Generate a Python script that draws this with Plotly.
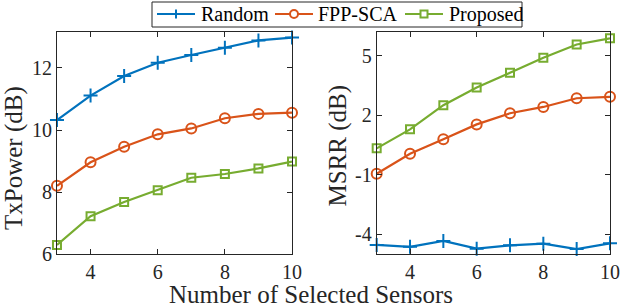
import plotly.graph_objects as go

x_sensors = [3, 4, 5, 6, 7, 8, 9, 10]

# Left: TxPower (dB)
tx_random = [10.32, 11.11, 11.74, 12.17, 12.42, 12.65, 12.89, 12.98]
tx_fpp = [8.20, 8.96, 9.46, 9.86, 10.05, 10.38, 10.52, 10.56]
tx_proposed = [6.29, 7.22, 7.68, 8.06, 8.46, 8.58, 8.76, 8.98]

# Right: MSRR (dB)
ms_random = [-4.54, -4.64, -4.34, -4.73, -4.56, -4.48, -4.75, -4.46]
ms_fpp = [-0.95, 0.06, 0.79, 1.54, 2.10, 2.42, 2.86, 2.93]
ms_proposed = [0.33, 1.29, 2.51, 3.40, 4.14, 4.90, 5.57, 5.88]

names = ["Random", "FPP-SCA", "Proposed"]
colors = ["#0072BD", "#D95319", "#77AC30"]
symbols = ["cross-thin-open", "circle-open", "square-open"]
sizes = [10, 10, 8]

x_ticks = [4, 6, 8, 10]
left_ticks = [6, 8, 10, 12]
right_ticks = [-4, -1, 2, 5]
right_ticktext = ["-4", "-1", "2", "5"]

FONT = "Liberation Serif"
AX = "#262626"
W, H = 622, 308

fig = go.Figure()
left = [tx_random, tx_fpp, tx_proposed]
right = [ms_random, ms_fpp, ms_proposed]
for i in range(3):
    fig.add_trace(go.Scatter(
        x=x_sensors, y=left[i], name=names[i], mode="lines+markers",
        line=dict(color=colors[i], width=2.2),
        marker=dict(symbol=symbols[i], size=sizes[i], color=colors[i],
                    line=dict(color=colors[i], width=2)),
        xaxis="x", yaxis="y", showlegend=False, cliponaxis=False))
for i in range(3):
    fig.add_trace(go.Scatter(
        x=x_sensors, y=right[i], name=names[i], mode="lines+markers",
        line=dict(color=colors[i], width=2.2),
        marker=dict(symbol=symbols[i], size=sizes[i], color=colors[i],
                    line=dict(color=colors[i], width=2)),
        xaxis="x2", yaxis="y2", showlegend=False, cliponaxis=False))

axis_common = dict(showline=True, linecolor=AX, linewidth=1, mirror="ticks",
                   ticks="inside", ticklen=5, tickcolor=AX, showgrid=False,
                   zeroline=False, automargin=False,
                   tickfont=dict(family=FONT, size=20, color=AX))

title_font = dict(family=FONT, size=25, color=AX)


def px(x):
    return x / W


def py(y):
    return 1 - y / H


# Custom compact legend (box, sample lines, glyphs, labels)
shapes = [dict(type="rect", xref="paper", yref="paper", x0=px(152), x1=px(522),
               y0=py(27), y1=py(2), line=dict(color=AX, width=1), fillcolor="white",
               layer="above")]
annotations = []
line_starts = [157, 275, 405]
text_starts = [200, 317, 448]
LY = 14
for i in range(3):
    x0 = line_starts[i]
    cx = x0 + 19
    shapes.append(dict(type="line", xref="paper", yref="paper", x0=px(x0), x1=px(x0 + 38),
                       y0=py(LY), y1=py(LY), line=dict(color=colors[i], width=2.2),
                       layer="above"))
    if i == 0:
        shapes.append(dict(type="line", xref="paper", yref="paper", x0=px(cx), x1=px(cx),
                           y0=py(LY - 4.5), y1=py(LY + 4.5),
                           line=dict(color=colors[i], width=2), layer="above"))
    elif i == 1:
        shapes.append(dict(type="circle", xref="paper", yref="paper", x0=px(cx - 4),
                           x1=px(cx + 4), y0=py(LY + 4), y1=py(LY - 4),
                           line=dict(color=colors[i], width=2), fillcolor="white",
                           layer="above"))
    else:
        shapes.append(dict(type="rect", xref="paper", yref="paper", x0=px(cx - 3.5),
                           x1=px(cx + 3.5), y0=py(LY + 3.5), y1=py(LY - 3.5),
                           line=dict(color=colors[i], width=2), fillcolor="white",
                           layer="above"))
    annotations.append(dict(text=names[i], x=px(text_starts[i]), y=py(LY + 0.5),
                            xref="paper", yref="paper", xanchor="left", yanchor="middle",
                            showarrow=False, borderpad=0,
                            font=dict(family=FONT, size=20, color="black")))

annotations += [
    dict(text="Number of Selected Sensors", x=0.5, y=0, xref="paper",
         yref="paper", xanchor="center", yanchor="bottom", yshift=-2,
         showarrow=False, font=dict(family=FONT, size=25, color=AX)),
    dict(text="TxPower (dB)", x=px(14), y=py(158), xref="paper", yref="paper",
         xanchor="center", yanchor="middle", textangle=-90, showarrow=False,
         borderpad=0, font=title_font),
    dict(text="MSRR (dB)", x=px(337.5), y=py(146), xref="paper", yref="paper",
         xanchor="center", yanchor="middle", textangle=-90, showarrow=False,
         borderpad=0, font=title_font),
]

fig.update_layout(
    width=W, height=H,
    margin=dict(l=0, r=0, t=0, b=0),
    paper_bgcolor="white", plot_bgcolor="white",
    font=dict(family=FONT, color=AX),
    showlegend=False,
    xaxis=dict(domain=[0.0916, 0.4695], range=[3, 10], tickvals=x_ticks,
               anchor="y", **axis_common),
    yaxis=dict(domain=[0.1753, 0.896], range=[6, 13.16], tickvals=left_ticks,
               anchor="x", **axis_common),
    xaxis2=dict(domain=[0.6056, 0.9807], range=[3, 10], tickvals=x_ticks,
                anchor="y2", **axis_common),
    yaxis2=dict(domain=[0.1753, 0.896], range=[-5.0, 6.2], tickvals=right_ticks,
                ticktext=right_ticktext, anchor="x2", **axis_common),
    shapes=shapes,
    annotations=annotations,
)

fig.write_html("out.html", config={"displayModeBar": False},
               post_script="document.body.style.margin='0';document.body.style.padding='0';")
